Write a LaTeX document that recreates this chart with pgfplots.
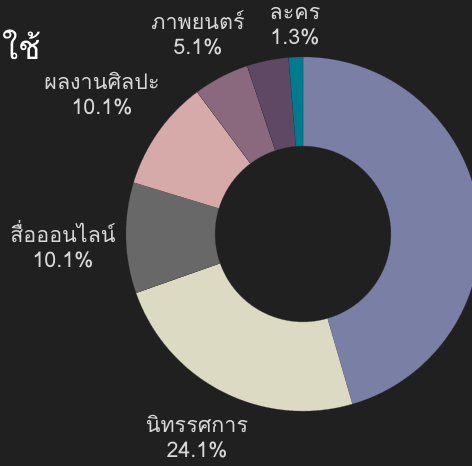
\documentclass[border=0pt]{standalone}
\usepackage{pgfplots}
\usepackage{pgfplotstable}
\pgfplotsset{compat=1.18}
\usepackage{fontspec}
\setmainfont[Script=Thai]{Loma}

\definecolor{bgcol}{HTML}{202020}
\definecolor{txtcol}{HTML}{D8D8D8}
\definecolor{s0}{HTML}{7A7FA6}
\definecolor{s1}{HTML}{DCDAC2}
\definecolor{s2}{HTML}{686868}
\definecolor{s3}{HTML}{D6AAA8}
\definecolor{s4}{HTML}{8A687E}
\definecolor{s5}{HTML}{5E4864}
\definecolor{s6}{HTML}{007A8E}

% share in percent, clockwise from 12 o'clock
\pgfplotstableread[col sep=comma]{
name,value
other,45.5
exhibition,24.1
online,10.1
art,10.1
film,5.1
misc,3.8
drama,1.3
}\donutdata

\begin{document}
\begin{tikzpicture}
\begin{axis}[
  width=472pt, height=466pt, scale only axis,
  xmin=0, xmax=472, ymin=0, ymax=466,
  axis lines=none, ticks=none,
  axis background/.style={fill=bgcol},
  clip=true,
]
\pgfplotstablegetrowsof{\donutdata}
\pgfmathtruncatemacro\N{\pgfplotsretval-1}
\def\cum{0}
\pgfplotsforeachungrouped \i in {0,...,\N}{
  \pgfplotstablegetelem{\i}{value}\of\donutdata
  \let\v\pgfplotsretval
  \pgfmathsetmacro\aA{90-3.6*\cum}
  \pgfmathsetmacro\aB{90-3.6*(\cum+\v)}
  \pgfmathsetmacro\xA{303+177*cos(\aA)}
  \pgfmathsetmacro\yA{232+177*sin(\aA)}
  \pgfmathsetmacro\xB{303+88*cos(\aB)}
  \pgfmathsetmacro\yB{232+88*sin(\aB)}
  \edef\tmp{\noexpand\fill[s\i, draw=bgcol!60!s\i, line width=0.2pt]
    (axis cs:\xA,\yA) arc[start angle=\aA, end angle=\aB, radius=177pt]
    -- (axis cs:\xB,\yB) arc[start angle=\aB, end angle=\aA, radius=88pt] -- cycle;}
  \tmp
  \pgfmathsetmacro\cum{\cum+\v}
}
\begin{scope}[every node/.style={text=txtcol, align=center, font=\fontsize{21.5}{25}\selectfont}]
\node at (axis cs:295,440) {ละคร\\1.3\%};
\node at (axis cs:198,433) {ภาพยนตร์\\5.1\%};
\node at (axis cs:102,372) {ผลงานศิลปะ\\10.1\%};
\node at (axis cs:63,222) {สื่อออนไลน์\\10.1\%};
\node at (axis cs:197,29) {นิทรรศการ\\24.1\%};
\end{scope}
\node[anchor=west, text=white, font=\fontsize{33}{36}\selectfont] at (axis cs:-1,421) {ใช้};
\end{axis}
\end{tikzpicture}
\end{document}
